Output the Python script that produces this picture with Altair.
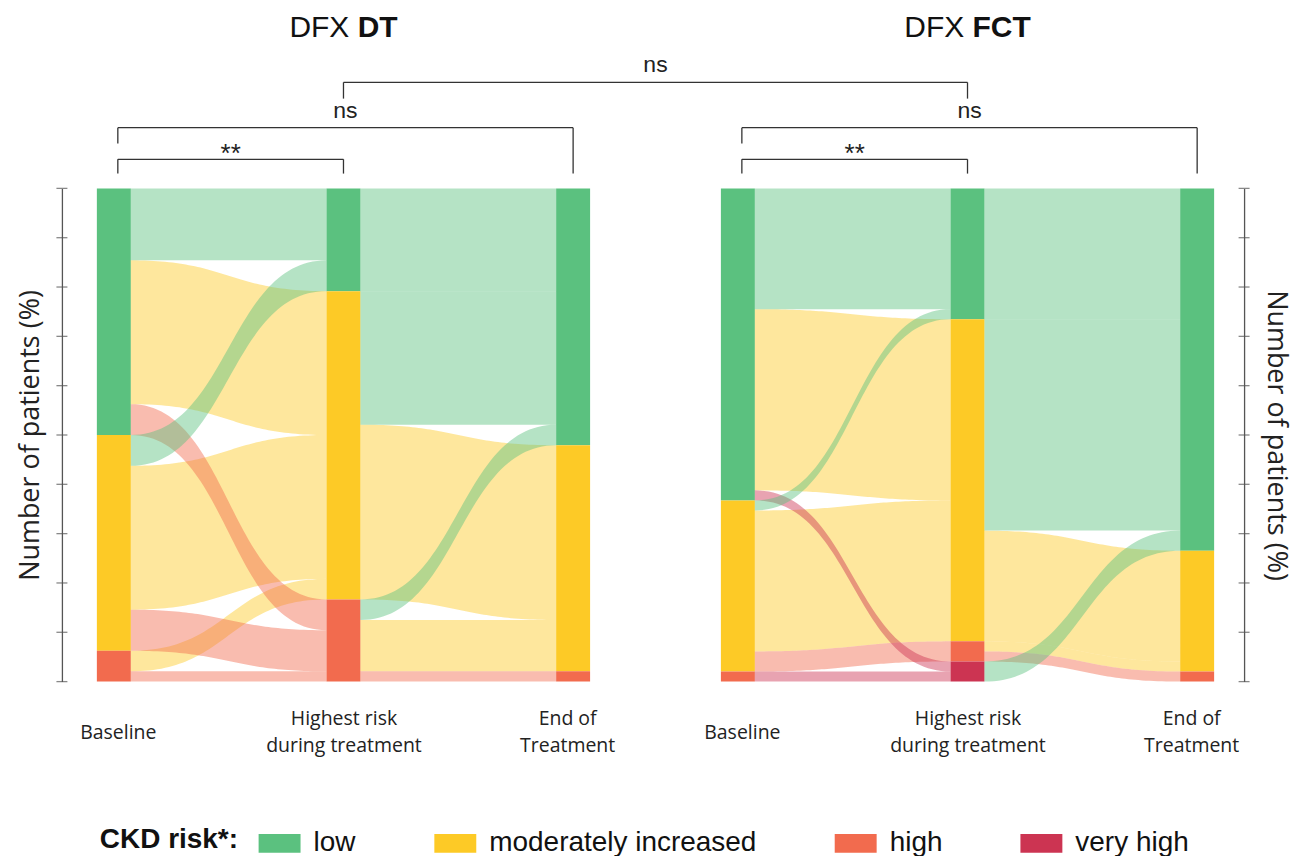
import altair as alt
import numpy as np
import pandas as pd

# ---------------- data ----------------
RISK = ["low", "moderately increased", "high", "very high"]
RISK_COLORS = ["#5BC17F", "#FDCA26", "#F26B4E", "#CC3452"]
STAGE_LABELS = [["Baseline"], ["Highest risk", "during treatment"], ["End of", "Treatment"]]
PANEL_PREFIX = ["DFX", "DFX"]
PANEL_NAME = ["DT", "FCT"]

# patients moving between CKD risk classes: rows = from, columns = to (order of RISK)
DT_BASELINE_TO_HIGHEST = [[7, 14, 3, 0], [3, 14, 4, 0], [0, 2, 1, 0], [0, 0, 0, 0]]
DT_HIGHEST_TO_END = [[10, 0, 0, 0], [13, 17, 0, 0], [2, 5, 1, 0], [0, 0, 0, 0]]
FCT_BASELINE_TO_HIGHEST = [[12, 18, 0, 1], [1, 14, 2, 0], [0, 0, 0, 1], [0, 0, 0, 0]]
FCT_HIGHEST_TO_END = [[13, 0, 0, 0], [21, 11, 0, 0], [0, 1, 1, 0], [2, 0, 0, 0]]

Y_TICKS = [0, 10, 20, 30, 40, 50, 60, 70, 80, 90, 100]

# significance comparisons: (panel, stage) -> (panel, stage)
SIG_LABELS = ["**", "ns", "**", "ns", "ns"]
SIG_FROM = [(0, 0), (0, 0), (1, 0), (1, 0), (0, 1)]
SIG_TO = [(0, 1), (0, 2), (1, 1), (1, 2), (1, 1)]

# ---------------- layout ----------------
PLOT_W, PLOT_H = 1184, 494
STAGE_PX = 230.0
PANEL_SHIFT = 625 / STAGE_PX
BAR_HALF = 17 / STAGE_PX
X_DOMAIN = [-52 / STAGE_PX, 1132 / STAGE_PX]
LABEL_SHIFT_PX = [4, 0, -6]        # stage label nudges
BRACKET_SHIFT_PX = [4, 0, 0]       # bracket end nudges
SIG_LEVEL = [105.9, 112.3, 105.9, 112.3, 121.5]
SIG_DROP_FROM = [103.0, 109.1, 103.0, 109.1, 118.2]
SIG_DROP_TO = [103.0, 103.0, 103.0, 103.0, 118.2]
TITLE_LEVEL = 130.6
TITLE_SIZE = 30
FONT_SANS = "Liberation Sans"
FONT_LABEL = "Open Sans"

color_scale = alt.Scale(domain=RISK, range=RISK_COLORS)
x_scale = alt.Scale(domain=X_DOMAIN, nice=False, zero=False)
y_scale = alt.Scale(domain=[0, 100], nice=False, zero=False)


def stage_x(panel, stage):
    return panel * PANEL_SHIFT + stage


# ---------------- sankey geometry ----------------
bars = []
flows = []
fid = 0
for p, (m1, m2) in enumerate([(DT_BASELINE_TO_HIGHEST, DT_HIGHEST_TO_END),
                              (FCT_BASELINE_TO_HIGHEST, FCT_HIGHEST_TO_END)]):
    mats = [np.array(m1, float), np.array(m2, float)]
    total = mats[0].sum()
    node_counts = [mats[0].sum(axis=1), mats[0].sum(axis=0), mats[1].sum(axis=0)]
    node_tops = []
    for s, counts in enumerate(node_counts):
        top = 100.0
        tops = []
        for r, c in enumerate(counts):
            h = c / total * 100
            tops.append(top)
            if c > 0:
                bars.append(dict(x=stage_x(p, s) - BAR_HALF, x2=stage_x(p, s) + BAR_HALF,
                                 y=top, y2=top - h, risk=RISK[r]))
            top -= h
        node_tops.append(tops)
    t = np.linspace(0, 1, 61)
    fx = 1.5 * t * (1 - t) + t ** 3
    fy = 3 * t ** 2 - 2 * t ** 3
    for k, m in enumerate(mats):
        out_cur = list(node_tops[k])
        in_cur = list(node_tops[k + 1])
        x0 = stage_x(p, k) + BAR_HALF
        x1 = stage_x(p, k + 1) - BAR_HALF
        for i in range(4):
            for j in range(4):
                n = m[i, j]
                if n <= 0:
                    continue
                h = n / total * 100
                ys, yt = out_cur[i], in_cur[j]
                out_cur[i] -= h
                in_cur[j] -= h
                for a, b in zip(fx, fy):
                    flows.append(dict(fid=fid, risk=RISK[j], x=x0 + (x1 - x0) * a,
                                      yt=ys + (yt - ys) * b, yb=ys - h + (yt - ys) * b))
                fid += 1

bars_df = pd.DataFrame(bars)
flows_df = pd.DataFrame(flows)

# brackets
rules, sig_text = [], []
for lab, a, b, lvl, d0, d1 in zip(SIG_LABELS, SIG_FROM, SIG_TO, SIG_LEVEL, SIG_DROP_FROM, SIG_DROP_TO):
    xa = stage_x(*a) + BRACKET_SHIFT_PX[a[1]] / STAGE_PX
    xb = stage_x(*b) + BRACKET_SHIFT_PX[b[1]] / STAGE_PX
    rules += [dict(x=xa, x2=xb, y=lvl, y2=lvl), dict(x=xa, x2=xa, y=lvl, y2=d0),
              dict(x=xb, x2=xb, y=lvl, y2=d1)]
    sig_text.append(dict(x=(xa + xb) / 2, y=lvl, label=lab))
rules_df = pd.DataFrame(rules)
sig_df = pd.DataFrame(sig_text)

# panel titles: "DFX " regular + bold name, centred over the middle stage
W_REG = {"D": .722, "F": .611, "X": .667, " ": .278}
W_BOLD = {"D": .722, "T": .611, "F": .611, "C": .722}
titles = []
for p in range(2):
    w_pre = sum(W_REG[c] for c in PANEL_PREFIX[p] + " ")
    w_b = sum(W_BOLD[c] for c in PANEL_NAME[p])
    off_px = (w_pre - w_b) / 2 * TITLE_SIZE
    titles.append(dict(x=stage_x(p, 1) + off_px / STAGE_PX, y=TITLE_LEVEL,
                       pre=PANEL_PREFIX[p], name=PANEL_NAME[p]))
titles_df = pd.DataFrame(titles)

ticks_left = pd.DataFrame(dict(x=X_DOMAIN[0], v=Y_TICKS))
ticks_right = pd.DataFrame(dict(x=X_DOMAIN[1], v=Y_TICKS))

# stage axis labels
x_vals = [stage_x(p, s) for p in range(2) for s in range(3)]
lab_list = [STAGE_LABELS[s] for p in range(2) for s in range(3)]
stage_of = [s for p in range(2) for s in range(3)]


def js_label(l):
    if len(l) == 1:
        return "'" + l[0] + "'"
    return "[" + ",".join("'" + s + "'" for s in l) + "]"


expr = js_label(lab_list[-1])
for i in range(len(x_vals) - 2, -1, -1):
    mid = (x_vals[i] + x_vals[i + 1]) / 2
    expr = f"datum.value < {mid:.4f} ? {js_label(lab_list[i])} : ({expr})"


def value_test(stages):
    return " || ".join(f"abs(datum.value - {v:.5f}) < 0.001"
                       for v, s in zip(x_vals, stage_of) if s in stages)


single_line_test = value_test([s for s, l in enumerate(STAGE_LABELS) if len(l) == 1])
label_offset = {"condition": [{"test": value_test([s]), "value": LABEL_SHIFT_PX[s]}
                              for s in range(3) if LABEL_SHIFT_PX[s] != 0], "value": 0}

# ---------------- axes (identical in every layer, so they merge into one) ----------------
AXIS_TITLE = dict(titleFont=FONT_LABEL, titleFontSize=27, titleFontWeight="normal",
                  titleColor="#222", titlePadding=17)
X_AXIS = alt.Axis(
    values=x_vals, labelExpr=expr, orient="bottom", domain=False, ticks=False, tickSize=0,
    grid=False,
    labelPadding={"condition": {"test": single_line_test, "value": 51}, "value": 37},
    labelOffset=label_offset,
    labelBaseline="middle", labelLineHeight=27,
    labelFont=FONT_LABEL, labelFontSize=19.5, labelColor="#222", labelOverlap=False,
    labelFlush=False, labelLimit=400, title=None)
Y_AXIS_LEFT = alt.Axis(
    orient="left", title="Number of patients (%)", labels=False, ticks=False, grid=False,
    domain=True, domainColor="#555", domainWidth=1.3, **AXIS_TITLE)
Y_AXIS_RIGHT = alt.Axis(
    orient="right", title="Number of patients (%)", labels=False, ticks=False, grid=False,
    domain=True, domainColor="#555", domainWidth=1.3, **AXIS_TITLE)


def X(field):
    return alt.X(field, scale=x_scale, axis=X_AXIS)


def Y(field, **kw):
    return alt.Y(field, scale=y_scale, axis=Y_AXIS_LEFT, **kw)


# ---------------- chart ----------------
bar_layer = alt.Chart(bars_df).mark_rect().encode(
    x=X("x:Q"), x2="x2:Q", y=Y("y:Q"), y2="y2:Q",
    color=alt.Color("risk:N", scale=color_scale, legend=alt.Legend(
        title="CKD risk*:", orient="none", legendX=38, legendY=635, direction="horizontal",
        titleOrient="left", titleFont=FONT_SANS, titleFontSize=28, titleFontWeight="bold",
        titleColor="#111", titlePadding=20, titleBaseline="middle",
        labelFont=FONT_SANS, labelFontSize=28, labelColor="#111", labelLimit=400,
        labelOffset=13, columnPadding=78, padding=0,
        symbolType="M-1,-0.45H1V0.45H-1Z", symbolSize=1764, symbolStrokeWidth=0,
        symbolOpacity=1)),
)

flow_layers = []
for r in ["moderately increased", "high", "very high", "low"]:
    flow_layers.append(
        alt.Chart(flows_df).transform_filter(alt.datum.risk == r).mark_area(opacity=0.45).encode(
            x=X("x:Q"), y=Y("yt:Q", stack=None), y2="yb:Q",
            color=alt.Color("risk:N", scale=color_scale, legend=None),
            detail="fid:N",
        )
    )

tick_l = alt.Chart(ticks_left).mark_tick(orient="horizontal", size=11, thickness=1.3, color="#555").encode(
    x=X("x:Q"), y=Y("v:Q"))

rule_layer = alt.Chart(rules_df).mark_rule(color="#333", strokeWidth=1.3).encode(
    x=X("x:Q"), x2="x2:Q", y=Y("y:Q"), y2="y2:Q")

ns_text = alt.Chart(sig_df).transform_filter(alt.datum.label == "ns").mark_text(
    font=FONT_SANS, fontSize=23, color="#222", baseline="alphabetic", dy=-10).encode(
    x=X("x:Q"), y=Y("y:Q"), text="label:N")

star_text = alt.Chart(sig_df).transform_filter(alt.datum.label == "**").mark_text(
    font=FONT_SANS, fontSize=26, color="#222", baseline="alphabetic", dy=3).encode(
    x=X("x:Q"), y=Y("y:Q"), text="label:N")

title_pre = alt.Chart(titles_df).mark_text(
    font=FONT_SANS, fontSize=TITLE_SIZE, color="#111", align="right", baseline="alphabetic",
    dx=-W_REG[" "] * TITLE_SIZE).encode(
    x=X("x:Q"), y=Y("y:Q"), text="pre:N")

title_name = alt.Chart(titles_df).mark_text(
    font=FONT_SANS, fontSize=TITLE_SIZE, fontWeight="bold", color="#111", align="left",
    baseline="alphabetic").encode(
    x=X("x:Q"), y=Y("y:Q"), text="name:N")

main = alt.layer(bar_layer, *flow_layers, tick_l, rule_layer, ns_text, star_text, title_pre, title_name)

right = alt.Chart(ticks_right).mark_tick(orient="horizontal", size=11, thickness=1.3, color="#555").encode(
    x=X("x:Q"),
    y=alt.Y("v:Q", scale=y_scale, axis=Y_AXIS_RIGHT))

chart = alt.layer(main, right).resolve_scale(y="independent").properties(
    width=PLOT_W, height=PLOT_H,
    padding={"left": 54, "top": 180, "right": 52, "bottom": 174},
    autosize=alt.AutoSizeParams(type="none"),
).configure_view(stroke=None)

chart.save("out.html", embed_options={"renderer": "svg", "actions": False})
